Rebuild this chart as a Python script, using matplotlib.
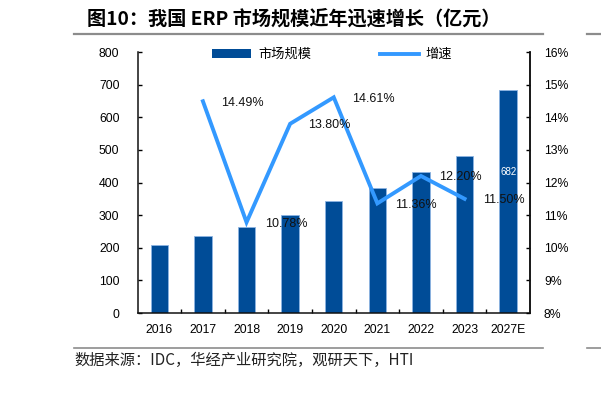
import matplotlib
matplotlib.use("Agg")
import matplotlib.pyplot as plt
from matplotlib.patches import Patch
from matplotlib.lines import Line2D
import numpy as np

plt.rcParams['font.family'] = ['Liberation Sans', 'Noto Sans CJK SC', 'DejaVu Sans']

years = ['2016', '2017', '2018', '2019', '2020', '2021', '2022', '2023', '2027E']
market = [208, 237, 263, 300, 344, 383, 431, 480, 682]
growth_years = ['2017', '2018', '2019', '2020', '2021', '2022', '2023']
growth = [14.49, 10.78, 13.80, 14.61, 11.36, 12.20, 11.50]

title = '图10：我国 ERP 市场规模近年迅速增长（亿元）'
source = '数据来源：IDC，华经产业研究院，观研天下，HTI'

bar_color = '#004C97'
line_color = '#3399FF'
cjk = ['Noto Sans CJK SC', 'DejaVu Sans']

W, H = 601, 411
fig = plt.figure(figsize=(W / 100, H / 100), dpi=100)
ax = fig.add_axes([137.5 / W, 1 - 313 / H, (530 - 137.5) / W, (313 - 52) / H])
ax2 = ax.twinx()

x = np.arange(len(years))
ax.bar(x, market, width=0.4, color=bar_color, edgecolor='#8DB4E2', linewidth=0.6, zorder=2)
ax.set_xlim(-0.5, len(years) - 0.5)
ax.set_ylim(0, 800)
ax.set_yticks(np.arange(0, 801, 100))
ax.set_xticks(x)
ax.set_xticklabels(years)
ax.set_xticks(np.arange(0.5, len(years) - 1, 1), minor=True)
ax.tick_params(axis='x', which='major', length=0, pad=8, labelsize=8.8)
ax.tick_params(axis='x', which='minor', direction='in', length=3, width=1)
ax.tick_params(axis='y', direction='in', length=3, width=1, pad=13, labelsize=8.8)

# label on last bar
ax.text(x[-1], market[-1] * 0.635, str(market[-1]), color='white', fontsize=7,
        ha='center', va='center', zorder=3)

gx = [years.index(y) for y in growth_years]
ax2.plot(gx, growth, color=line_color, linewidth=2.8, zorder=4, solid_joinstyle='miter')
ax2.set_ylim(8, 16)
ax2.set_yticks(np.arange(8, 16.1, 1))
ax2.set_yticklabels([f'{v}%' for v in range(8, 17)])
ax2.tick_params(axis='y', direction='in', length=3, width=1, pad=10, labelsize=8.8)
for xi, g in zip(gx, growth):
    ax2.annotate(f'{g:.2f}%', (xi, g), xytext=(13, -1), textcoords='offset points',
                 ha='left', va='center', fontsize=9, color='#111111', zorder=5)

for a in (ax, ax2):
    a.spines['top'].set_visible(False)
    for s in ('left', 'right', 'bottom'):
        a.spines[s].set_linewidth(1.1)
        a.spines[s].set_color('#111111')
ax2.spines['left'].set_visible(False)
ax2.spines['bottom'].set_visible(False)

handles = [Patch(facecolor=bar_color, edgecolor='none', label='市场规模'),
           Line2D([], [], color=line_color, linewidth=2.8, label='增速')]
leg = ax2.legend(handles=handles, loc='center', bbox_to_anchor=(0.4955, 0.99), ncol=2,
                 frameon=False, handlelength=3.0, handleheight=0.6, columnspacing=5.2,
                 handletextpad=0.5, prop={'family': cjk, 'size': 9.5})

# title and decorations
fig.text(87 / W, 1 - 19 / H, title, fontsize=13.8, fontweight='bold', family=cjk,
         ha='left', va='center')
fig.add_artist(Line2D([74 / W, 543 / W], [1 - 34 / H] * 2, color='#8C8C8C', linewidth=1.6))
fig.add_artist(Line2D([587 / W, 1.0], [1 - 34 / H] * 2, color='#8C8C8C', linewidth=1.6))
fig.add_artist(Line2D([74 / W, 543 / W], [1 - 348 / H] * 2, color='#8C8C8C', linewidth=1.2))
fig.add_artist(Line2D([587 / W, 1.0], [1 - 348 / H] * 2, color='#8C8C8C', linewidth=1.2))
fig.text(74 / W, 1 - 360 / H, source, fontsize=11, family=cjk, ha='left', va='center',
         color='#222222')

fig.savefig('out.png', dpi=100)
